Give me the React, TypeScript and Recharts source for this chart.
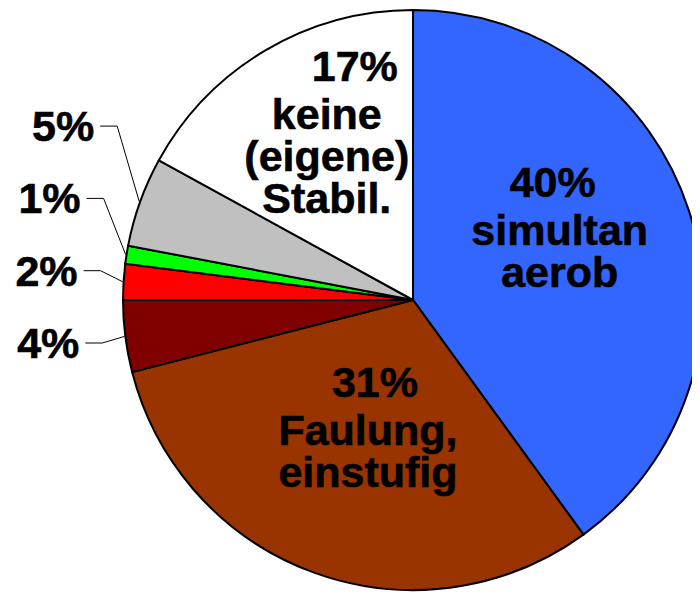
import { PieChart, Pie, Cell } from "recharts"

const names = ["simultan aerob", "Faulung, einstufig", "a", "b", "c", "d", "keine (eigene) Stabil."]
const values = [40, 31, 4, 2, 1, 5, 17]
const colors = ["#3366FF", "#993300", "#800000", "#FF0000", "#00FF00", "#C0C0C0", "#FFFFFF"]
const textLines: string[][] = [
  ["simultan", "aerob"],
  ["Faulung,", "einstufig"],
  [],
  [],
  [],
  [],
  ["keine", "(eigene)", "Stabil."],
]

const data = names.map((name, i) => ({ name, value: values[i] }))

// nudges for the big inside labels (relative to the slice midpoint)
const insideNudge: Record<number, { dx: number; dy: number; pctDx: number }> = {
  0: { dx: -5, dy: -54, pctDx: -7 },
  1: { dx: 9, dy: -53, pctDx: 7 },
  6: { dx: -5, dy: -82, pctDx: 28 },
}

const RADIAN = Math.PI / 180
const FONT = "'Liberation Sans', Arial, sans-serif"
const FS = 43

function renderLabel(props: any) {
  const { cx, cy, midAngle, outerRadius, index, value } = props
  const cos = Math.cos(-midAngle * RADIAN)
  const sin = Math.sin(-midAngle * RADIAN)

  if (value >= 10) {
    const r = outerRadius * 0.55
    const n = insideNudge[index] ?? { dx: 0, dy: 0, pctDx: 0 }
    const x = cx + r * cos + n.dx
    const y = cy + r * sin + n.dy
    return (
      <g>
        <text x={x + n.pctDx} y={y} textAnchor="middle" fontFamily={FONT} fontWeight="bold" fontSize={FS} fill="#000" stroke="#000" strokeWidth={0.6}>
          {value}%
        </text>
        {textLines[index].map((line, i) => (
          <text key={i} x={x} y={y + 48 + 42 * i} textAnchor="middle" fontFamily={FONT} fontWeight="bold" fontSize={FS} fill="#000" stroke="#000" strokeWidth={0.6}>
            {line}
          </text>
        ))}
      </g>
    )
  }

  // small slices: stacked labels on the left with elbow leader lines
  const order = index - 2
  const ex = cx + (outerRadius + 1) * cos
  const ey = cy + (outerRadius + 1) * sin
  const lineY = cy + 43 - 72.3 * order
  const elbowX = ex - 22
  const startX = elbowX - 17
  return (
    <g>
      <polyline points={`${startX},${lineY} ${elbowX},${lineY} ${ex},${ey}`} fill="none" stroke="#000" strokeWidth={1} />
      <text x={startX - 6} y={lineY + 15} textAnchor="end" fontFamily={FONT} fontWeight="bold" fontSize={FS} fill="#000" stroke="#000" strokeWidth={0.6}>
        {value}%
      </text>
    </g>
  )
}

export default function App() {
  return (
    <div style={{ width: 692, height: 586, overflow: "hidden" }}>
      <PieChart width={692} height={586} margin={{ top: 0, right: 0, bottom: 0, left: 0 }}>
        <Pie
          data={data}
          dataKey="value"
          nameKey="name"
          cx={405}
          cy={292}
          outerRadius={290}
          startAngle={90}
          endAngle={-270}
          stroke="#000"
          strokeWidth={2}
          label={renderLabel}
          labelLine={false}
          isAnimationActive={false}
        >
          {data.map((d, i) => (
            <Cell key={d.name} fill={colors[i]} />
          ))}
        </Pie>
      </PieChart>
    </div>
  )
}
